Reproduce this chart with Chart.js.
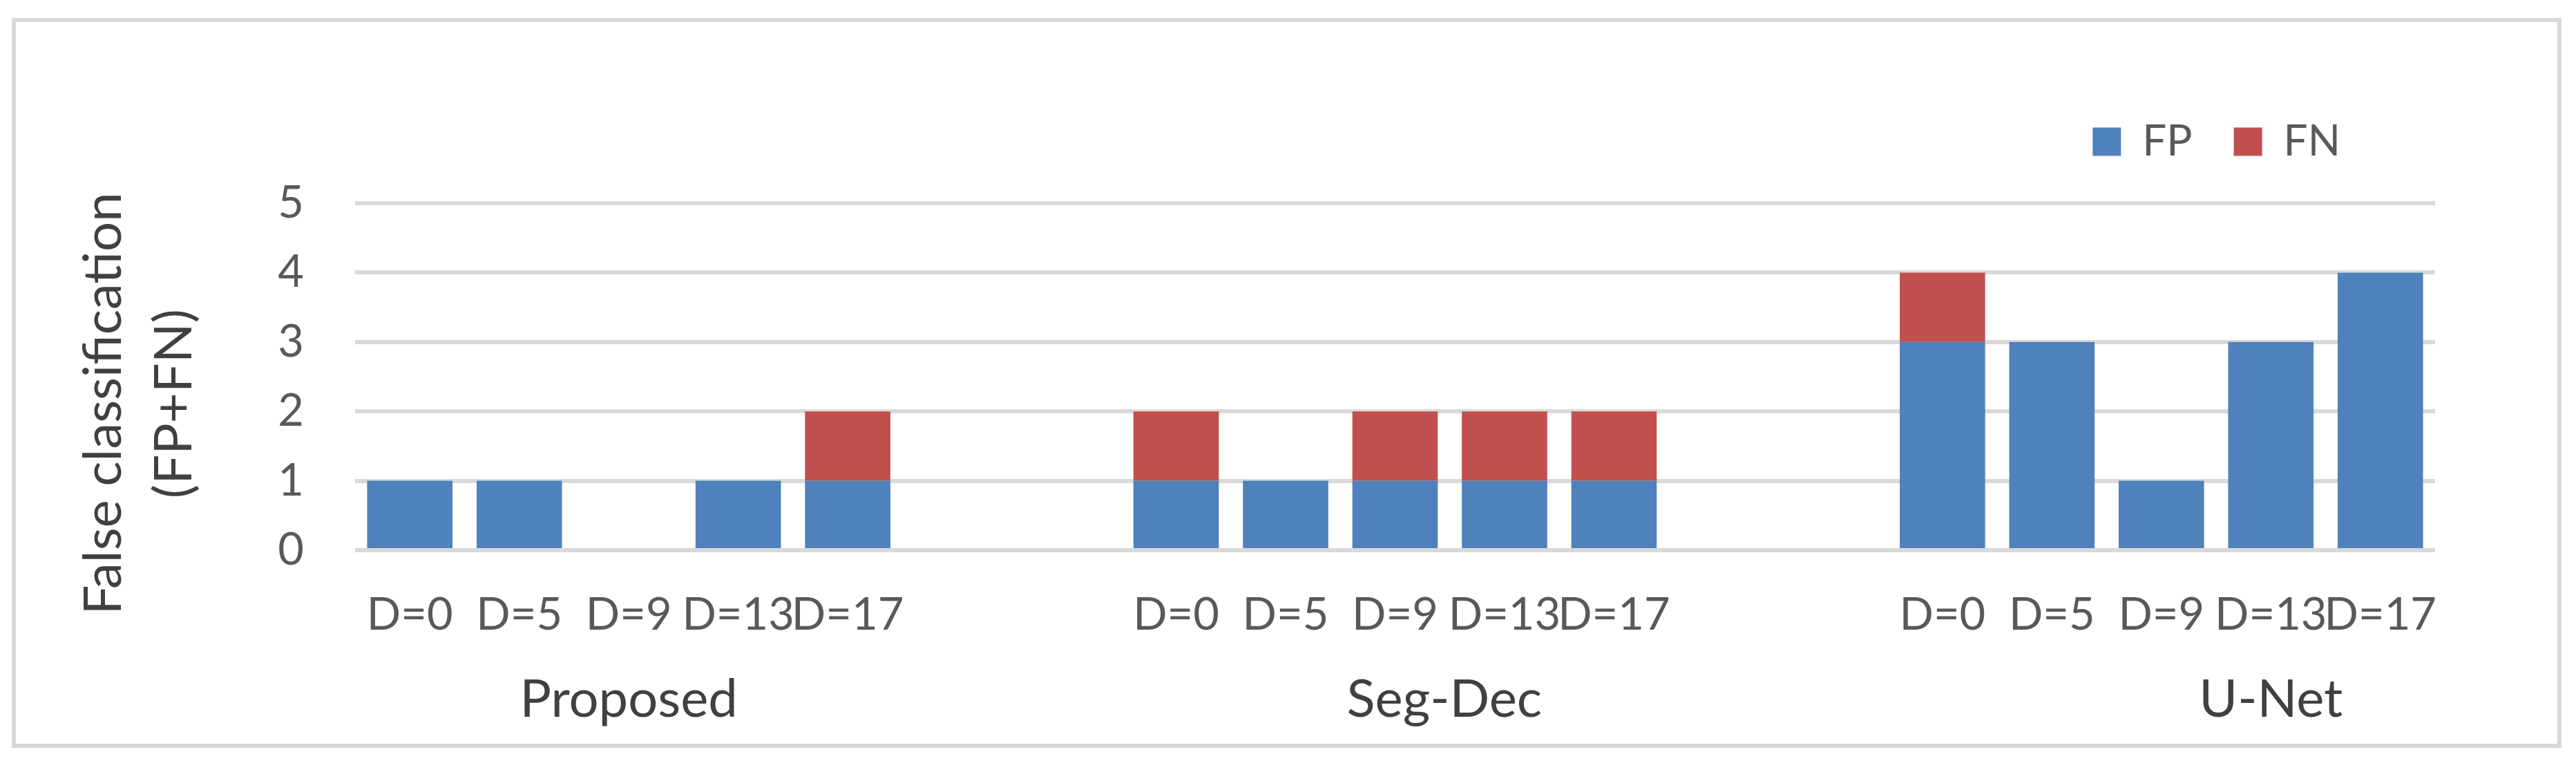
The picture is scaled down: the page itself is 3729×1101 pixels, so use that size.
<!DOCTYPE html>
<html>
<head>
<meta charset="utf-8">
<script src="https://cdn.jsdelivr.net/npm/chart.js@4.4.1/dist/chart.umd.min.js"></script>
<style>
  html, body { margin: 0; padding: 0; background: #fff; }
  #frame { position: absolute; left: 17px; top: 26px; width: 3691px; height: 1056px;
           box-sizing: border-box; border: 6px solid #d9d9d9; }
  #myChart { position: absolute; left: 0; top: 0; }
</style>
</head>
<body>
<div id="frame"></div>
<canvas id="myChart" width="3729" height="1101"></canvas>
<script>
// categories (blank slots separate the three methods)
const categories = ['D=0', 'D=5', 'D=9', 'D=13', 'D=17', '', '',
                    'D=0', 'D=5', 'D=9', 'D=13', 'D=17', '', '',
                    'D=0', 'D=5', 'D=9', 'D=13', 'D=17'];
const groups = ['Proposed', 'Seg-Dec', 'U-Net'];
const fp = [1, 1, 0, 1, 1, null, null,
            1, 1, 1, 1, 1, null, null,
            3, 3, 1, 3, 4];
const fn = [0, 0, 0, 0, 1, null, null,
            1, 0, 1, 1, 1, null, null,
            1, 0, 0, 0, 0];
const yTicks = [0, 1, 2, 3, 4, 5];
const yTitle = ['False classification', '(FP+FN)'];

const FONT = 'Lato, "Open Sans", sans-serif';
// where Excel puts the group captions, in category units
const groupPos = [2, 9.45, 17];

const legendShift = {
  id: 'legendShift',
  afterLayout(chart) {
    chart.legend.right = chart.chartArea.right - 77;
  }
};

// two-line rotated y title, centred a bit below the plot middle like Excel does
const yTitlePlugin = {
  id: 'yTitlePlugin',
  afterDraw(chart) {
    const c = chart.ctx, a = chart.chartArea;
    const cy = (a.top + a.bottom) / 2 + 39;
    c.save();
    c.fillStyle = '#404040';
    c.font = '76px ' + FONT;
    c.textAlign = 'center';
    c.textBaseline = 'alphabetic';
    yTitle.forEach((line, i) => {
      c.save();
      c.translate(a.left - 339 + i * 102, cy);
      c.rotate(-Math.PI / 2);
      c.fillText(line, 0, 0);
      c.restore();
    });
    c.restore();
  }
};

var ctx = document.getElementById('myChart').getContext('2d');
var myChart = new Chart(ctx, {
  type: 'bar',
  data: {
    labels: categories,
    datasets: [
      { label: 'FP', data: fp, backgroundColor: '#4f81bd', xAxisID: 'x' },
      { label: 'FN', data: fn, backgroundColor: '#c0504d', xAxisID: 'x' }
    ]
  },
  options: {
    responsive: false,
    devicePixelRatio: 1,
    animation: false,
    categoryPercentage: 1,
    barPercentage: 0.78,
    layout: { padding: { left: 24, right: 204, top: 114, bottom: 38 } },
    plugins: {
      legend: {
        position: 'top',
        align: 'end',
        labels: {
          boxWidth: 41,
          boxHeight: 41,
          padding: 60,
          color: '#595959',
          font: { family: FONT, size: 62 }
        }
      },
      tooltip: { enabled: false }
    },
    scales: {
      x: {
        stacked: true,
        weight: 0,
        grid: { display: false },
        border: { display: false },
        ticks: {
          color: '#595959',
          font: { family: FONT, size: 65 },
          padding: 47,
          maxRotation: 0,
          autoSkip: false
        },
        afterFit: s => { s.height = 136; }
      },
      g: {
        type: 'linear',
        position: 'bottom',
        weight: 1,
        offset: false,
        min: -0.5,
        max: 18.5,
        grid: { display: false },
        border: { display: false },
        afterBuildTicks: s => { s.ticks = groupPos.map(v => ({ value: v })); },
        ticks: {
          color: '#404040',
          font: { family: FONT, size: 76 },
          padding: 27,
          maxRotation: 0,
          autoSkip: false,
          callback: (v, i) => groups[i]
        },
        afterFit: s => { s.height = 131; }
      },
      t: {
        type: 'linear',
        position: 'top',
        offset: false,
        grid: { display: false },
        border: { display: false },
        ticks: { display: false },
        afterFit: s => { s.height = 48; }
      },
      y: {
        stacked: true,
        min: 0,
        max: 5,
        afterBuildTicks: s => { s.ticks = yTicks.map(v => ({ value: v })); },
        grid: { color: '#d9d9d9', lineWidth: 6, drawTicks: false },
        border: { display: false },
        ticks: {
          color: '#595959',
          font: { family: FONT, size: 65 },
          padding: 74
        },
        afterFit: s => { s.width = 490; }
      }
    }
  },
  plugins: [legendShift, yTitlePlugin]
});
</script>
</body>
</html>
